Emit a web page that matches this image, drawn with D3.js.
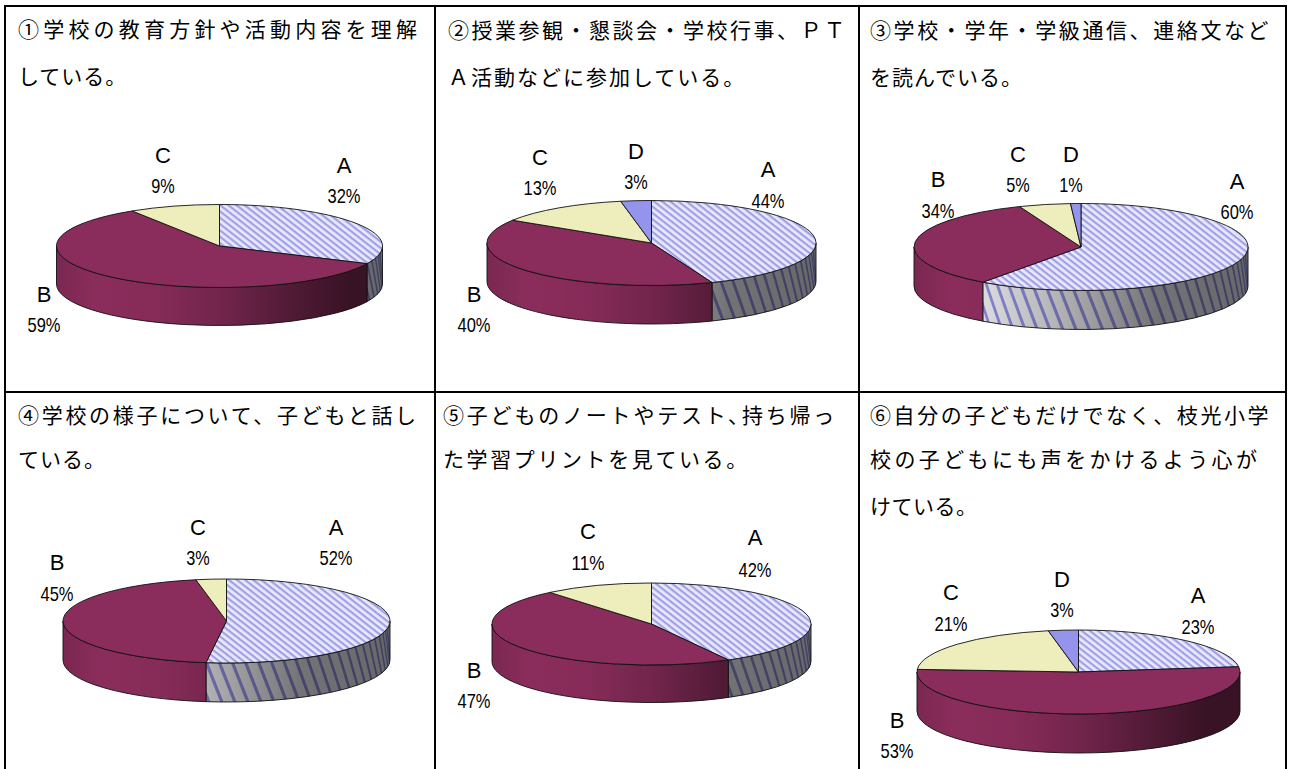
<!DOCTYPE html>
<html>
<head>
<meta charset="utf-8">
<title>アンケート結果</title>
<script src="https://cdnjs.cloudflare.com/ajax/libs/d3/7.8.5/d3.min.js"></script>
<style>
  body { margin: 0; background: #fff; }
  svg { display: block; }
  .q { font: 21px "Noto Sans CJK JP"; fill: #000; }
  .name { font: 22px "Liberation Sans"; fill: #000; text-anchor: middle; }
  .pct { font: 21px "Liberation Sans"; fill: #000; }
</style>
</head>
<body>
<script>
// data
const categories = ["A", "B", "C", "D"];
const values1 = [32, 59, 9, 0];
const values2 = [44, 40, 13, 3];
const values3 = [60, 34, 5, 1];
const values4 = [52, 45, 3, 0];
const values5 = [42, 47, 11, 0];
const values6 = [23, 53, 21, 3];
const allValues = [values1, values2, values3, values4, values5, values6];

const questions = [
  ["①学校の教育方針や活動内容を理解", "している。"],
  ["②授業参観・懇談会・学校行事、ＰＴ", "Ａ活動などに参加している。"],
  ["③学校・学年・学級通信、連絡文など", "を読んでいる。"],
  ["④学校の様子について、子どもと話し", "ている。"],
  ["⑤子どものノートやテスト､持ち帰っ", "た学習プリントを見ている。"],
  ["⑥自分の子どもだけでなく、枝光小学", "校の子どもにも声をかけるよう心が", "けている。"]
];

// layout
const textX = [18, 448, 870, 18, 443, 870];
const textY = [[37, 84], [38, 85], [38, 85], [423, 467], [423, 467], [423, 467, 514]];
const textPitch = [[25.2, 22], [23.5, 23], [23.6, 22], [23.7, 22], [23.8, 23.6], [23.6, 24.4, 21.5]];
const pies = [
  { cx: 219.5, cy: 246, rx: 163, ry: 41.5, d: 38 },
  { cx: 651.5, cy: 243, rx: 164.5, ry: 42.5, d: 38.5 },
  { cx: 1081, cy: 247, rx: 167, ry: 43.5, d: 39 },
  { cx: 226.5, cy: 621, rx: 163.5, ry: 42, d: 39 },
  { cx: 651.5, cy: 624, rx: 159.5, ry: 41, d: 37.5 },
  { cx: 1078.5, cy: 672, rx: 161.5, ry: 42, d: 39 }
];
// label spot for each category: [x, name baseline, percent baseline]
const labelSpots = [
  [[344, 173, 203], [44, 302, 332], [163, 163, 193], null],
  [[768, 177, 208], [474, 302, 332], [540, 165, 195], [636, 159, 189]],
  [[1237, 189, 219], [938, 187, 218], [1018, 162, 192], [1071, 162, 192]],
  [[336, 535, 565], [57, 570, 601], [198, 535, 565], null],
  [[755, 545, 577], [474, 678, 708], [588, 539, 570], null],
  [[1198, 603, 634], [897, 728, 758], [951, 600, 631], [1062, 587, 617]]
];
const gridX = [5, 435, 859, 1286];
const gridY = [6, 392];

const topFill = { B: "#8b2d5c", C: "#eeeebc", D: "#9494ec" };

const svg = d3.select("body").append("svg").attr("width", 1292).attr("height", 769);
const defs = svg.append("defs");

// hatch on the top face of A
const hatch = defs.append("pattern")
  .attr("id", "hatch")
  .attr("patternUnits", "userSpaceOnUse")
  .attr("width", 5).attr("height", 5)
  .attr("patternTransform", "rotate(38)");
hatch.append("rect").attr("width", 5).attr("height", 5).attr("fill", "#e9e9fb");
hatch.append("rect").attr("width", 5).attr("height", 2.2).attr("fill", "#a0a0e8");

const pie = d3.pie().sort(null).value(d => d.value);

function addShade(id, pos, stops) {
  const g = defs.append("linearGradient")
    .attr("id", id)
    .attr("gradientUnits", "userSpaceOnUse")
    .attr("x1", pos.cx - pos.rx).attr("x2", pos.cx + pos.rx)
    .attr("y1", 0).attr("y2", 0);
  stops.forEach(s => g.append("stop")
    .attr("offset", s[0]).attr("stop-color", "#000").attr("stop-opacity", s[1]));
}

function drawPie(vals, pos, spots, idx) {
  const px = a => pos.cx + pos.rx * Math.sin(a);
  const py = a => pos.cy - pos.ry * Math.cos(a);
  const table = categories.map((c, i) => ({ name: c, value: vals[i], spot: spots[i] }));
  const arcs = pie(table).filter(d => d.value > 0);
  const g = svg.append("g");

  addShade("shadeA" + idx, pos, [[0, 0.02], [0.2, 0.04], [0.43, 0.22], [0.73, 0.5], [1, 0.55]]);
  addShade("shadeB" + idx, pos, [[0, 0.12], [0.12, 0], [0.3, 0.04], [0.5, 0.18], [0.75, 0.45], [0.9, 0.6], [1, 0.6]]);

  // side wall, only the front half of the disc shows
  arcs.forEach(d => {
    const t0 = Math.max(d.startAngle, Math.PI / 2);
    const t1 = Math.min(d.endAngle, Math.PI * 1.5);
    if (t1 <= t0) return;
    const wall = `M${px(t0)},${py(t0)}A${pos.rx},${pos.ry} 0 0 1 ${px(t1)},${py(t1)}` +
      `L${px(t1)},${py(t1) + pos.d}A${pos.rx},${pos.ry} 0 0 0 ${px(t0)},${py(t0) + pos.d}Z`;
    const isA = d.data.name === "A";
    g.append("path").attr("d", wall).attr("fill", isA ? "#e6e6ea" : topFill[d.data.name]);
    if (isA) {
      const clipId = "wall" + idx;
      defs.append("clipPath").attr("id", clipId).append("path").attr("d", wall);
      const angles = d3.range(t0, t1 + 0.08, 0.08);
      g.append("g").attr("clip-path", `url(#${clipId})`)
        .selectAll("line").data(angles).join("line")
        .attr("x1", a => px(a) - 3).attr("y1", a => py(a) - 2)
        .attr("x2", a => px(a) + 14 * Math.abs(Math.cos(a)))
        .attr("y2", a => py(a) + pos.d + 2)
        .attr("stroke", "#8a8ad8")
        .attr("stroke-width", a => 0.8 + 2.4 * Math.abs(Math.cos(a)));
    }
    g.append("path").attr("d", wall).attr("fill", `url(#shade${isA ? "A" : "B"}${idx})`);
    g.append("path").attr("d", wall).attr("fill", "none").attr("stroke", "#111").attr("stroke-width", 0.9);
  });

  // top face
  arcs.forEach(d => {
    const large = d.endAngle - d.startAngle > Math.PI ? 1 : 0;
    g.append("path")
      .attr("d", `M${pos.cx},${pos.cy}L${px(d.startAngle)},${py(d.startAngle)}` +
        `A${pos.rx},${pos.ry} 0 ${large} 1 ${px(d.endAngle)},${py(d.endAngle)}Z`)
      .attr("fill", d.data.name === "A" ? "url(#hatch)" : topFill[d.data.name])
      .attr("stroke", "#111").attr("stroke-width", 0.9);
  });

  // labels
  arcs.forEach(d => {
    const s = d.data.spot;
    g.append("text").attr("class", "name").attr("x", s[0]).attr("y", s[1]).text(d.data.name);
    const t = d.value + "%";
    const w = (t.length - 1) * 9.5 + 14;
    g.append("text").attr("class", "pct")
      .attr("x", s[0] - w / 2).attr("y", s[2])
      .attr("textLength", w).attr("lengthAdjust", "spacingAndGlyphs")
      .text(t);
  });
}

allValues.forEach((v, i) => drawPie(v, pies[i], labelSpots[i], i));

// question text
questions.forEach((lines, i) => {
  lines.forEach((line, j) => {
    svg.append("text").attr("class", "q")
      .attr("x", textX[i]).attr("y", textY[i][j])
      .style("letter-spacing", (textPitch[i][j] - 21) + "px")
      .text(line);
  });
});

// table rules
svg.selectAll("line.v").data(gridX).join("line")
  .attr("x1", d => d).attr("x2", d => d).attr("y1", gridY[0] - 1).attr("y2", 769)
  .attr("stroke", "#000").attr("stroke-width", 2);
svg.selectAll("line.h").data(gridY).join("line")
  .attr("x1", gridX[0]).attr("x2", gridX[3]).attr("y1", d => d).attr("y2", d => d)
  .attr("stroke", "#000").attr("stroke-width", 2);
</script>
</body>
</html>
